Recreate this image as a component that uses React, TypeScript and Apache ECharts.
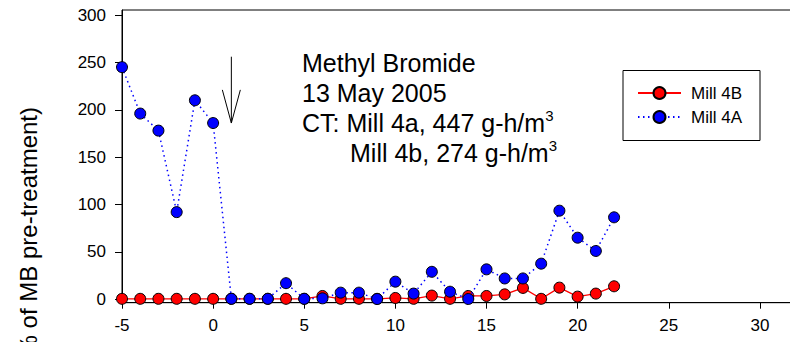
import React, { useEffect, useRef } from "react";
import * as echarts from "echarts";

// ---- data ----
const days = [-5, -4, -3, -2, -1, 0, 1, 2, 3, 4, 5, 6, 7, 8, 9, 10, 11, 12, 13, 14, 15, 16, 17, 18, 19, 20, 21, 22];
const mill4B = [0.5, 0.5, 0.5, 0.5, 0.5, 0.5, 0.5, 0.5, 0.5, 0.5, 0.5, 3.5, 0.5, 0.5, 0.5, 1.4, 0.5, 3.9, 0.5, 3.5, 3.5, 5.2, 12, 0.5, 12.3, 2.8, 6, 13.7];
const mill4A = [245, 196, 178, 92, 210, 186, 0.5, 0.5, 0.5, 17, 0.5, 1, 7, 7, 0.3, 18.6, 6, 29, 8, 0.3, 31.6, 22, 22, 37.6, 93.5, 65, 51, 86.5];
const seriesNames = ["Mill 4B", "Mill 4A"];
const xTickValues = [-5, 0, 5, 10, 15, 20, 25, 30];
const yTickValues = [0, 50, 100, 150, 200, 250, 300];
const yAxisTitle = "(% of MB pre-treatment)";
const noteLines = ["Methyl Bromide", "13 May 2005", "CT: Mill 4a, 447 g-h/m", "Mill 4b, 274 g-h/m"];
const treatmentDay = 1;
const arrowTopValue = 256;
const arrowTipValue = 186;
const arrowWingValue = 221;

const FONT = "'Liberation Sans', Arial, Helvetica, sans-serif";

export default function App() {
  const ref = useRef<HTMLDivElement>(null);

  useEffect(() => {
    document.body.style.margin = "0";
    const chart = echarts.init(ref.current!, null, { renderer: "svg" });

    const toPairs = (vals: number[]) => days.map((d, i) => [d, vals[i]]);

    chart.setOption({
      animation: false,
      backgroundColor: "#fff",
      textStyle: { fontFamily: FONT },
      grid: {
        left: 122,
        top: 10,
        width: 729,
        height: 292.7,
        outerBoundsMode: "none",
        containLabel: false,
        show: true,
        borderColor: "#000",
        borderWidth: 1,
        backgroundColor: "transparent",
      },
      xAxis: {
        type: "value",
        min: -5,
        max: 35,
        interval: 5,
        axisLine: { onZero: false, lineStyle: { color: "#000", width: 1 } },
        axisTick: { show: true, length: 6, lineStyle: { color: "#000" } },
        axisLabel: { color: "#000", fontSize: 17, margin: 14, fontFamily: FONT, customValues: xTickValues },
        splitLine: { show: false },
      },
      yAxis: {
        type: "value",
        min: -3.6,
        max: 305.3,
        axisLine: { show: true, onZero: false, lineStyle: { color: "#000", width: 1 } },
        axisTick: { show: true, length: 7, customValues: yTickValues, lineStyle: { color: "#000" } },
        axisLabel: { color: "#000", fontSize: 17, margin: 16, customValues: yTickValues, fontFamily: FONT },
        splitLine: { show: false },
      },
      legend: {
        orient: "vertical",
        left: 623,
        top: 70.5,
        data: seriesNames,
        itemWidth: 43,
        itemHeight: 15,
        itemGap: 7,
        padding: [14, 18, 15, 14],
        borderColor: "#000",
        borderWidth: 1,
        textStyle: { fontSize: 17, color: "#000", fontFamily: FONT, padding: [0, 0, 0, 5] },
      },
      series: [
        {
          name: seriesNames[0],
          type: "line",
          data: toPairs(mill4B),
          symbol: "circle",
          symbolSize: 11,
          showAllSymbol: true,
          lineStyle: { color: "#ff0000", width: 1.3, type: "solid" },
          itemStyle: { color: "#ff0000", borderColor: "#000", borderWidth: 1 },
          z: 2,
        },
        {
          name: seriesNames[1],
          type: "line",
          data: toPairs(mill4A),
          symbol: "circle",
          symbolSize: 11,
          showAllSymbol: true,
          lineStyle: { color: "#0000ff", width: 1.5, type: [1.5, 3.5] },
          itemStyle: { color: "#0000ff", borderColor: "#000", borderWidth: 1 },
          z: 3,
        },
      ],
    });

    const top = chart.convertToPixel({ gridIndex: 0 }, [treatmentDay, arrowTopValue]) as number[];
    const tip = chart.convertToPixel({ gridIndex: 0 }, [treatmentDay, arrowTipValue]) as number[];
    const wing = chart.convertToPixel({ gridIndex: 0 }, [treatmentDay, arrowWingValue]) as number[];

    chart.setOption({
      graphic: [
        {
          type: "line",
          shape: { x1: top[0], y1: top[1], x2: tip[0], y2: tip[1] },
          style: { stroke: "#000", lineWidth: 1 },
          z: 10,
        },
        {
          type: "polyline",
          shape: { points: [[wing[0] - 9, wing[1]], [tip[0], tip[1]], [wing[0] + 9, wing[1]]] },
          style: { stroke: "#000", lineWidth: 1, fill: null },
          z: 10,
        },
        {
          type: "text",
          x: 302,
          y: 48.5,
          z: 10,
          style: {
            text: [
              `{a|${noteLines[0]}}`,
              `{a|${noteLines[1]}}`,
              `{a|${noteLines[2]}}{s|3}`,
              `{b|${noteLines[3]}}{s|3}`,
            ].join("\n"),
            rich: {
              a: { fontSize: 25, lineHeight: 29.8, fontFamily: FONT, fill: "#000" },
              b: { fontSize: 25, lineHeight: 29.8, fontFamily: FONT, fill: "#000", padding: [0, 0, 0, 48] },
              s: { fontSize: 15, lineHeight: 19, fontFamily: FONT, fill: "#000", verticalAlign: "top" },
            },
            fill: "#000",
          },
        },
        {
          type: "text",
          x: 28,
          y: 107,
          rotation: Math.PI / 2,
          z: 10,
          style: {
            text: yAxisTitle,
            fontSize: 24,
            fontFamily: FONT,
            fill: "#000",
            align: "right",
            verticalAlign: "middle",
          },
        },
      ],
    });

    return () => chart.dispose();
  }, []);

  return <div ref={ref} style={{ width: 790, height: 342 }} />;
}
